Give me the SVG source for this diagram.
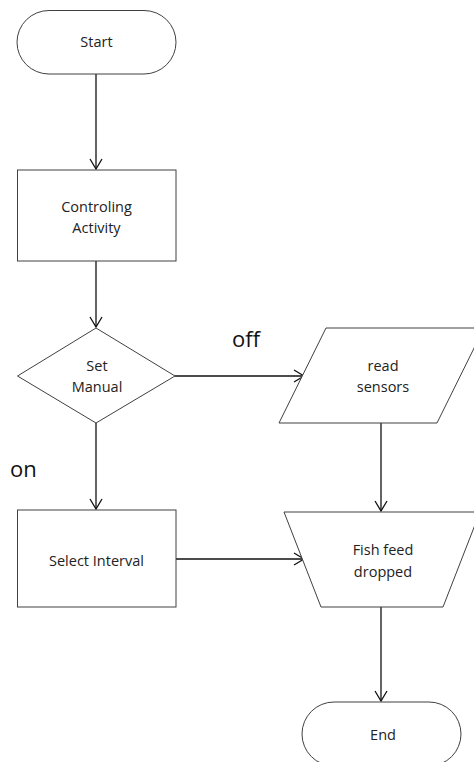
<svg xmlns="http://www.w3.org/2000/svg" width="474" height="762" viewBox="0 0 474 762">
<style>
.s{fill:#fff;stroke:#404040;stroke-width:1}
.t{font-family:"Open Sans",sans-serif;font-size:14.5px;fill:#222;text-anchor:middle}
.l{font-family:"Open Sans",sans-serif;font-size:22px;fill:#111}
.c{fill:none;stroke:#111;stroke-width:1.3}
</style>
<defs>
<marker id="a" markerWidth="14" markerHeight="14" refX="12" refY="7" orient="auto" markerUnits="userSpaceOnUse">
<path d="M2,1 L12,7 L2,13" fill="none" stroke="#111" stroke-width="1.3"/>
</marker>
</defs>
<g id="connectors">
<path class="c" d="M96,74 V169" marker-end="url(#a)"/>
<path class="c" d="M96,261 V327" marker-end="url(#a)"/>
<path class="c" d="M96,423 V509" marker-end="url(#a)"/>
<path class="c" d="M175,376 H304" marker-end="url(#a)"/>
<path class="c" d="M176,559 H304" marker-end="url(#a)"/>
<path class="c" d="M381,423 V511" marker-end="url(#a)"/>
<path class="c" d="M381,607 V701" marker-end="url(#a)"/>
<text class="l" x="232" y="347">off</text>
<text class="l" x="10" y="477">on</text>
</g>
<g id="start">
<rect class="s" x="17" y="10.5" width="159" height="63.5" rx="32" ry="32"/>
<text class="t" x="96.5" y="47">Start</text>
</g>
<g id="controling">
<rect class="s" x="17.5" y="170" width="158.5" height="91"/>
<text class="t" x="96.5" y="212">Controling</text>
<text class="t" x="96.5" y="233">Activity</text>
</g>
<g id="decision">
<polygon class="s" points="96,328 175,376 96,423 17.5,376"/>
<text class="t" x="97" y="371">Set</text>
<text class="t" x="97" y="392">Manual</text>
</g>
<g id="select">
<rect class="s" x="17.5" y="510" width="158.5" height="97"/>
<text class="t" x="96.5" y="566">Select Interval</text>
</g>
<g id="read">
<polygon class="s" points="326,328 484,328 437,423 279,423"/>
<text class="t" x="383" y="371">read</text>
<text class="t" x="383" y="392">sensors</text>
</g>
<g id="fish">
<polygon class="s" points="284,512 480,512 443,607 321,607"/>
<text class="t" x="383" y="555">Fish feed</text>
<text class="t" x="383" y="577">dropped</text>
</g>
<g id="end">
<rect class="s" x="302" y="702" width="159" height="64" rx="32" ry="32"/>
<text class="t" x="383" y="740">End</text>
</g>
</svg>
